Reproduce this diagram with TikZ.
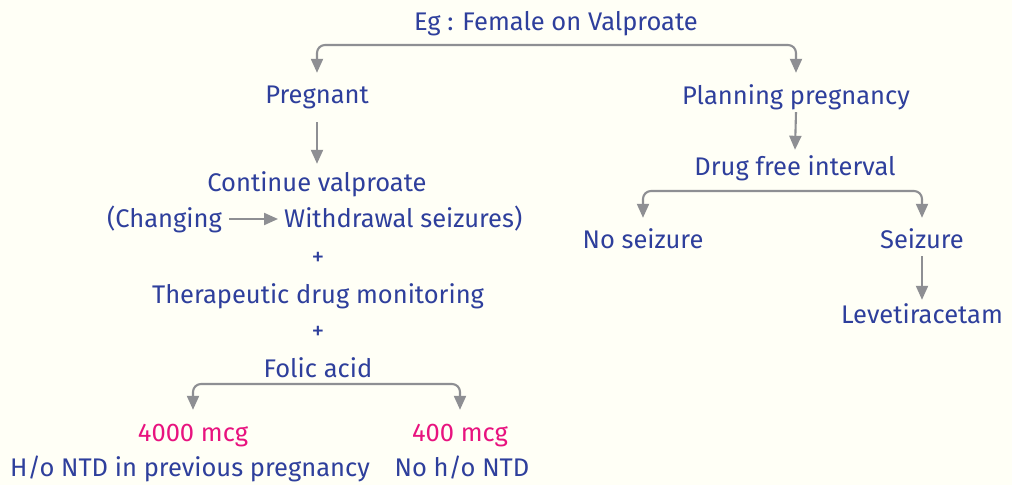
\documentclass[tikz,border=0pt]{standalone}
\usepackage{fontspec}
\setmainfont{Fira Sans}
\usetikzlibrary{arrows.meta,positioning,calc}
\definecolor{ink}{HTML}{2E3F9C}
\definecolor{dosepink}{HTML}{E8137F}
\definecolor{paper}{HTML}{FFFFF6}
\definecolor{wire}{HTML}{8E8F93}

\begin{document}
\begin{tikzpicture}[x=1pt, y=-1pt, font=\fontsize{25.5}{28}\selectfont,
  lbl/.style={text=ink, inner sep=0pt, text height=20pt, text depth=4pt},
  dose/.style={lbl, text=dosepink},
  arr/.style={draw=wire, line width=2.1pt, rounded corners=8pt,
    -{Triangle[width=12pt,length=14pt]}}]
  \fill[paper] (0,0) rectangle (1012,485);
  \useasboundingbox (0,0) rectangle (1012,485);

  % top of the tree
  \node[lbl] (eg) at (556,22) {Eg : Female on Valproate};
  \node[lbl] (preg) at (317,95) {Pregnant};
  \node[lbl] (plan) at (796,96) {Planning pregnancy};
  \coordinate (egsplit) at (556,45);
  \draw[arr] (egsplit) -| ([yshift=10pt]preg.north);
  \draw[arr] (egsplit) -| ([yshift=11pt]plan.north);

  % pregnant branch
  \node[lbl] (cont) at (317,183) {Continue valproate};
  \node[lbl, anchor=east] (chg) at (222,219) {(Changing};
  \node[lbl, anchor=west] (wdr) at (284,219) {Withdrawal seizures)};
  \node[lbl] (plus1) at (318,257) {+};
  \node[lbl] (tdm) at (318,295) {Therapeutic drug monitoring};
  \node[lbl] (plus2) at (318,331) {+};
  \node[lbl] (folic) at (318,369) {Folic acid};
  \draw[arr] ([yshift=-15pt]preg.south) -- ([yshift=7pt]cont.north);
  \draw[arr, shorten <=7pt, shorten >=6pt] (chg) -- (wdr);

  % folic acid doses
  \node[dose] (high) at (193,433) {4000 mcg};
  \node[dose] (low) at (460,433) {400 mcg};
  \node[lbl] (hntd) at (190,468) {H/o NTD in previous pregnancy};
  \node[lbl] (nntd) at (462,468) {No h/o NTD};
  \coordinate (folsplit) at (318,384);
  \draw[arr] (folsplit) -| ([yshift=11pt]high.north);
  \draw[arr] (folsplit) -| ([yshift=11pt]low.north);

  % planning branch
  \node[lbl] (dfi) at (795,167) {Drug free interval};
  \node[lbl] (nosz) at (643,240) {No seizure};
  \node[lbl] (sz) at (922,240) {Seizure};
  \node[lbl] (lev) at (922,315) {Levetiracetam};
  \draw[arr] ([yshift=-4pt]plan.south) -- ([yshift=5pt]dfi.north);
  \coordinate (dfisplit) at (795,191);
  \draw[arr] (dfisplit) -| ([yshift=10pt]nosz.north);
  \draw[arr] (dfisplit) -| ([yshift=10pt]sz.north);
  \draw[arr] ([yshift=-4pt]sz.south) -- ([yshift=3pt]lev.north);
\end{tikzpicture}
\end{document}
